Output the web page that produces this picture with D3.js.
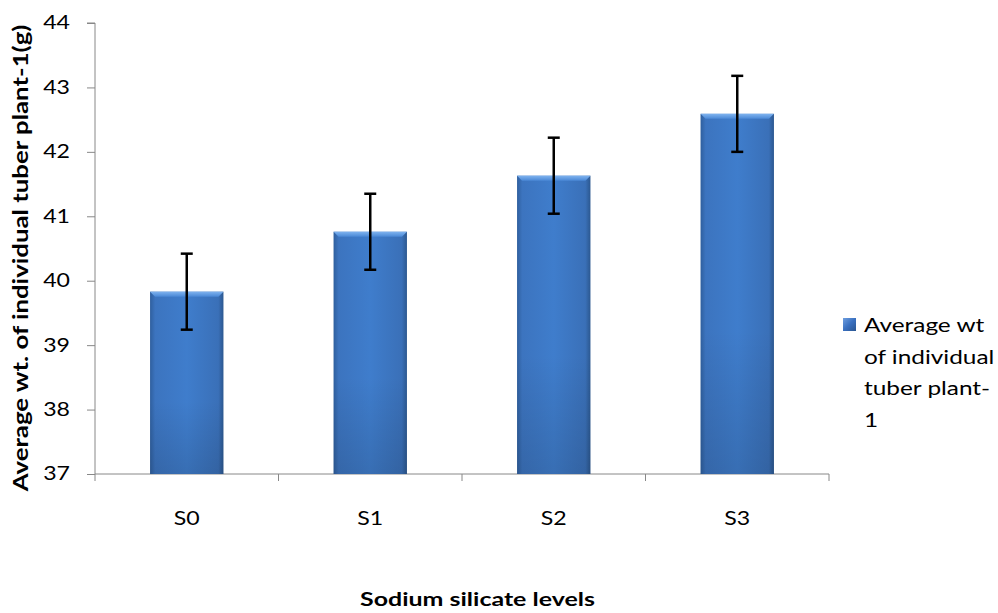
<!DOCTYPE html>
<html><head><meta charset="utf-8">
<script src="https://cdn.jsdelivr.net/npm/d3@7"></script>
<style>body{margin:0;background:#fff}svg{display:block}text{font-family:Lato,"Open Sans",sans-serif}</style>
</head><body><svg id="c" width="998" height="613"></svg>
<script>
const categories = ["S0","S1","S2","S3"];
const values = [39.83, 40.76, 41.63, 42.59];
const errors = [0.59, 0.59, 0.59, 0.59];
const yTicks = [37,38,39,40,41,42,43,44];
const legendLines = ["Average wt","of individual","tuber plant-","1"];

const svg = d3.select("#c");
const m = {l:95, r:829, t:23, b:474};
const SX = 1.25; // horizontal stretch of text in the original picture
const x = d3.scaleBand().domain(categories).range([m.l, m.r]).paddingInner(0.6).paddingOuter(0.3);
const y = d3.scaleLinear().domain([37,44]).range([m.b, m.t]);

function stretch(sel){
  sel.each(function(){
    const t = d3.select(this);
    const ax = +t.attr("x") || 0;
    t.attr("transform", `translate(${ax},0) scale(${SX},1) translate(${-ax},0)`);
  });
}

const defs = svg.append("defs");
const g = defs.append("linearGradient").attr("id","bg").attr("x1","0").attr("x2","1");
[[0,"#2f5f9e"],[0.07,"#3c74bf"],[0.5,"#3f7dcc"],[0.93,"#3a70b8"],[1,"#2c5890"]].forEach(s=>g.append("stop").attr("offset",s[0]).attr("stop-color",s[1]));
const gv = defs.append("linearGradient").attr("id","bv").attr("x1","0").attr("x2","0").attr("y1","0").attr("y2","1");
[[0,"#ffffff",0.0],[0.6,"#000000",0.0],[1,"#000000",0.12]].forEach(s=>gv.append("stop").attr("offset",s[0]).attr("stop-color",s[1]).attr("stop-opacity",s[2]));
const gt = defs.append("linearGradient").attr("id","bt").attr("x1","0").attr("x2","0").attr("y1","0").attr("y2","1");
[[0,"#7fb3ef"],[1,"#4a88d6"]].forEach(s=>gt.append("stop").attr("offset",s[0]).attr("stop-color",s[1]));
const gl = defs.append("linearGradient").attr("id","lg").attr("x1","0").attr("x2","1").attr("y1","0").attr("y2","1");
[[0,"#6f9fe0"],[0.5,"#3a70c0"],[1,"#2a5590"]].forEach(s=>gl.append("stop").attr("offset",s[0]).attr("stop-color",s[1]));

// axes
const yAxis = d3.axisLeft(y).tickValues(yTicks).tickSize(8).tickPadding(17).tickFormat(d3.format("d"));
const ya = svg.append("g").attr("transform",`translate(${m.l},0)`).call(yAxis);
ya.select(".domain").attr("stroke","#888").attr("d",`M-8,${m.t}H0V${m.b}`);
ya.selectAll(".tick line").attr("stroke","#888");
ya.selectAll(".tick text").attr("font-size",18.5).attr("fill","#000").call(stretch);

const bw = x.step();
const xAxis = d3.axisBottom(x).tickSize(0).tickPadding(38);
const xa = svg.append("g").attr("transform",`translate(0,${m.b})`).call(xAxis);
xa.select(".domain").attr("stroke","#888").attr("d",`M${m.l},0H${m.r}`);
xa.selectAll(".tick text").attr("font-size",18.5).attr("fill","#000").call(stretch);
const xt = d3.range(categories.length+1).map(i=>m.l + i*bw);
svg.append("g").selectAll("line").data(xt).join("line")
  .attr("x1",d=>d).attr("x2",d=>d).attr("y1",m.b).attr("y2",m.b+7).attr("stroke","#888");

// bars
const bars = svg.append("g");
categories.forEach((c,i)=>{
  const x0 = x(c), w = x.bandwidth(), yt = y(values[i]);
  bars.append("rect").attr("x",x0).attr("y",yt).attr("width",w).attr("height",m.b-yt).attr("fill","url(#bg)");
  bars.append("rect").attr("x",x0).attr("y",yt).attr("width",w).attr("height",m.b-yt).attr("fill","url(#bv)");
  bars.append("path").attr("d",`M${x0},${yt}H${x0+w}L${x0+w-5},${yt+5}H${x0+5}Z`).attr("fill","url(#bt)");
});

// error bars
const eg = svg.append("g").attr("stroke","#000").attr("stroke-width",2.5);
categories.forEach((c,i)=>{
  const cx = x(c)+x.bandwidth()/2;
  const y1 = y(values[i]+errors[i]), y2 = y(values[i]-errors[i]);
  eg.append("line").attr("x1",cx).attr("x2",cx).attr("y1",y1).attr("y2",y2);
  eg.append("line").attr("x1",cx-6).attr("x2",cx+6).attr("y1",y1).attr("y2",y1);
  eg.append("line").attr("x1",cx-6).attr("x2",cx+6).attr("y1",y2).attr("y2",y2);
});

// titles
const yt = svg.append("text").attr("text-anchor","middle").attr("font-size",17).attr("font-weight","bold")
  .text("Average wt. of individual tuber plant-1(g)");
const ylen = yt.node().getComputedTextLength();
yt.attr("transform",`translate(28,258) rotate(-90) scale(${467/ylen},${SX})`);

const xtl = svg.append("text").attr("text-anchor","middle").attr("font-size",18.5).attr("font-weight","bold")
  .text("Sodium silicate levels");
const xlen = xtl.node().getComputedTextLength();
xtl.attr("transform",`translate(477.5,606) scale(${235/xlen},1)`);

// legend
svg.append("rect").attr("x",843).attr("y",318).attr("width",13).attr("height",13).attr("fill","url(#lg)");
svg.append("g").selectAll("text").data(legendLines).join("text")
  .attr("x",864).attr("y",(d,i)=>332+i*31.7).attr("font-size",19.5).attr("fill","#000").text(d=>d).call(stretch);
</script></body></html>
